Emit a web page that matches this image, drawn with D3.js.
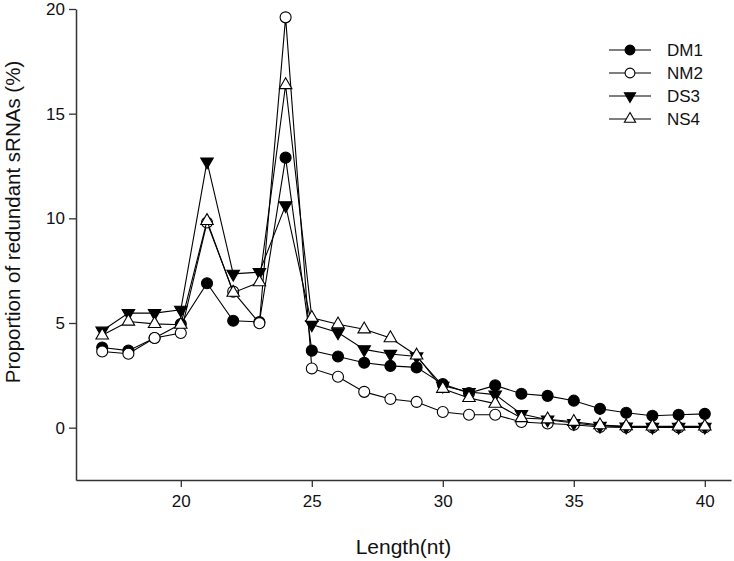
<!DOCTYPE html>
<html><head><meta charset="utf-8">
<script src="https://cdn.jsdelivr.net/npm/d3@7"></script>
<style>body{margin:0;background:#fff}svg{display:block;font-family:"Liberation Sans",Arial,sans-serif}</style>
</head><body><svg id="c" width="734" height="561"></svg>
<script>
const lengths = [17,18,19,20,21,22,23,24,25,26,27,28,29,30,31,32,33,34,35,36,37,38,39,40];
const DM1 = [3.83,3.68,4.28,4.95,6.90,5.11,5.05,12.9,3.68,3.40,3.10,2.95,2.88,2.08,1.65,2.02,1.62,1.52,1.29,0.90,0.71,0.57,0.62,0.66];
const NM2 = [3.64,3.53,4.28,4.52,9.80,6.50,4.99,19.6,2.83,2.43,1.71,1.37,1.23,0.75,0.62,0.62,0.27,0.20,0.14,0.03,0.01,0.01,0.01,0.01];
const DS3 = [4.63,5.47,5.47,5.63,12.71,7.35,7.43,10.62,4.93,4.55,3.74,3.52,3.40,2.00,1.70,1.58,0.65,0.38,0.22,0.08,0.05,0.04,0.04,0.04];
const NS4 = [4.41,5.07,4.96,4.92,9.88,6.45,6.95,16.37,5.25,4.94,4.70,4.28,3.45,1.86,1.42,1.15,0.46,0.40,0.28,0.12,0.07,0.06,0.06,0.06];
const seriesNames = ["DM1","NM2","DS3","NS4"];
const seriesValues = [DM1,NM2,DS3,NS4];
const xTicks = [20,25,30,35,40];
const yTicks = [0,5,10,15,20];
const xTitle = "Length(nt)";
const yTitle = "Proportion of redundant sRNAs (%)";

const styles = {
  DM1:{type:d3.symbolCircle, size:95, fill:"#000", rot:0},
  NM2:{type:d3.symbolCircle, size:95, fill:"#fff", rot:0},
  DS3:{type:d3.symbolTriangle, size:68, fill:"#000", rot:180},
  NS4:{type:d3.symbolTriangle, size:68, fill:"#fff", rot:0}
};

const svg = d3.select("#c");
const L=76, R=731, T=9, B=480;
const x = d3.scaleLinear().domain([16,41]).range([L,R]);
const y = d3.scaleLinear().domain([-2.5,20]).range([B,T]);

const axisColor = "#333";
const gx = svg.append("g").attr("transform",`translate(0,${B})`)
  .call(d3.axisBottom(x).tickValues(xTicks).tickSize(7).tickPadding(8).tickSizeOuter(0));
const gy = svg.append("g").attr("transform",`translate(${L},0)`)
  .call(d3.axisLeft(y).tickValues(yTicks).tickSize(7).tickPadding(4).tickSizeOuter(0));
[gx,gy].forEach(g=>{
  g.select(".domain").attr("stroke",axisColor).attr("stroke-width",1.5);
  g.selectAll(".tick line").attr("stroke",axisColor).attr("stroke-width",1.3);
  g.selectAll(".tick text").attr("font-size",17).attr("fill","#111").attr("font-family","Liberation Sans, Arial, sans-serif");
});

svg.append("text").attr("x",(L+R)/2).attr("y",554).attr("text-anchor","middle")
  .attr("font-size",21).attr("fill","#111").text(xTitle);
svg.append("text").attr("transform","translate(20,222) rotate(-90)").attr("text-anchor","middle")
  .attr("font-size",20.5).attr("fill","#111").text(yTitle);

const line = d3.line().x((d,i)=>x(lengths[i])).y(d=>y(d));
seriesNames.forEach((name,k)=>{
  const vals = seriesValues[k];
  const st = styles[name];
  const g = svg.append("g");
  g.append("path").attr("d",line(vals)).attr("fill","none").attr("stroke","#000").attr("stroke-width",1.1);
  g.selectAll("path.m").data(vals).enter().append("path").attr("class","m")
    .attr("d",d3.symbol().type(st.type).size(st.size))
    .attr("transform",(d,i)=>`translate(${x(lengths[i])},${y(d)}) rotate(${st.rot})`)
    .attr("fill",st.fill).attr("stroke","#000").attr("stroke-width",1.1);
});

// legend
const lg = svg.append("g");
const rowY = [50,73,96,119];
seriesNames.forEach((name,k)=>{
  const st = styles[name];
  lg.append("line").attr("x1",609).attr("x2",651).attr("y1",rowY[k]).attr("y2",rowY[k]).attr("stroke","#000").attr("stroke-width",1.1);
  lg.append("path").attr("d",d3.symbol().type(st.type).size(st.size*0.8))
    .attr("transform",`translate(630,${rowY[k]}) rotate(${st.rot})`)
    .attr("fill",st.fill).attr("stroke","#000").attr("stroke-width",1.1);
  lg.append("text").attr("x",667).attr("y",rowY[k]+6).attr("font-size",17).attr("fill","#111").text(name);
});
</script></body></html>
